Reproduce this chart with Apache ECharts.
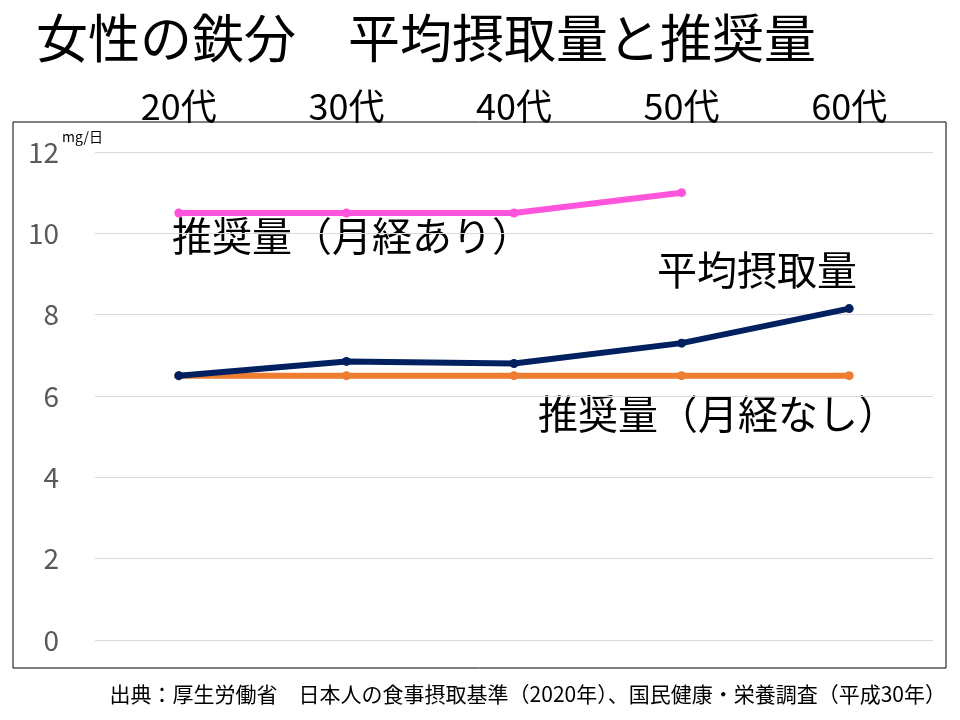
<!DOCTYPE html>
<html>
<head>
<meta charset="utf-8">
<script src="https://cdn.jsdelivr.net/npm/echarts@6/dist/echarts.min.js"></script>
<style>body{margin:0;background:#fff}</style>
</head>
<body>
<div id="chart" style="width:960px;height:720px"></div>
<script>
var ages = ['20代', '30代', '40代', '50代', '60代'];
var recWithMenses = [10.5, 10.5, 10.5, 11.0, null];
var avgIntake = [6.5, 6.85, 6.8, 7.3, 8.15];
var recNoMenses = [6.5, 6.5, 6.5, 6.5, 6.5];
var yTicks = [0, 2, 4, 6, 8, 10, 12];

var font = '"Noto Sans CJK JP", "Noto Sans", sans-serif';
var chart = echarts.init(document.getElementById('chart'));

function line(name, data, color, width, z) {
    return {
        name: name, type: 'line', data: data, z: z,
        symbol: 'circle', symbolSize: 9,
        itemStyle: {color: color},
        lineStyle: {color: color, width: width},
        animation: false
    };
}

chart.setOption({
    textStyle: {fontFamily: font},
    grid: {left: 95, right: 27, top: 152, bottom: 80},
    xAxis: {
        type: 'category', position: 'top', data: ages,
        axisLine: {show: false}, axisTick: {show: false},
        axisLabel: {color: '#000', fontSize: 36, margin: 28}
    },
    yAxis: {
        type: 'value', min: yTicks[0], max: yTicks[yTicks.length - 1], interval: 2,
        axisLine: {show: false}, axisTick: {show: false},
        axisLabel: {color: '#595959', fontSize: 28, margin: 36},
        splitLine: {lineStyle: {color: '#d9d9d9'}}
    },
    series: [
        line('推奨量（月経なし）', recNoMenses, '#ed7d31', 6, 2),
        line('平均摂取量', avgIntake, '#002060', 6, 3),
        line('推奨量（月経あり）', recWithMenses, '#ff55dd', 6, 4)
    ],
    graphic: [
        {type: 'rect', shape: {x: 13, y: 122, width: 933, height: 546},
         style: {fill: 'none', stroke: '#000', lineWidth: 1}},
        {type: 'text', left: 36, top: 12, style: {text: '女性の鉄分　平均摂取量と推奨量', font: '52px ' + font, fill: '#000'}},
        {type: 'text', left: 62, top: 130, style: {text: 'mg/日', font: '14px ' + font, fill: '#000'}},
        {type: 'text', left: 172, top: 216, style: {text: '推奨量（月経あり）', font: '40px ' + font, fill: '#000'}},
        {type: 'text', left: 657, top: 250, style: {text: '平均摂取量', font: '40px ' + font, fill: '#000'}},
        {type: 'text', left: 538, top: 394, style: {text: '推奨量（月経なし）', font: '40px ' + font, fill: '#000'}},
        {type: 'text', right: 14, top: 684, style: {text: '出典：厚生労働省　日本人の食事摂取基準（2020年）、国民健康・栄養調査（平成30年）', font: '21px ' + font, fill: '#000'}}
    ]
});
</script>
</body>
</html>
